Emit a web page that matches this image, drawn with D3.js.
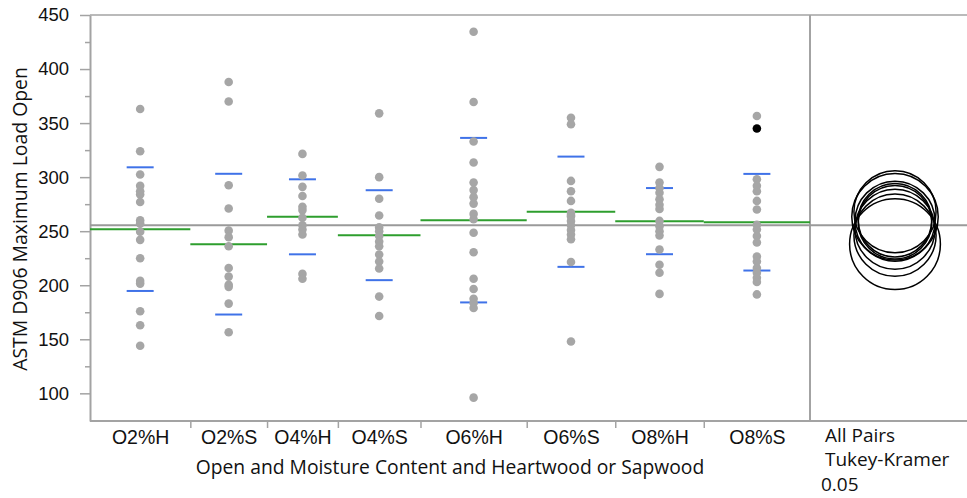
<!DOCTYPE html>
<html>
<head>
<meta charset="utf-8">
<script src="https://cdn.jsdelivr.net/npm/d3@7"></script>
<style>
  body { margin: 0; background: #fff; }
  svg { display: block; font-family: "Open Sans", "Noto Sans", sans-serif; }
</style>
</head>
<body>
<div id="chart"></div>
<script>
// --------------- Data --------------- //

const groups = ["O2%H", "O2%S", "O4%H", "O4%S", "O6%H", "O6%S", "O8%H", "O8%S"];

const loads = {
    "O2%H": [363, 324, 302.5, 292, 287, 284, 277, 260, 257, 249.5, 242, 225, 204, 201.5, 176, 163, 144],
    "O2%S": [388, 370, 292.5, 271, 250.5, 244.5, 236, 216, 208, 200.5, 198.5, 183, 156.5],
    "O4%H": [321.5, 301.5, 291, 282.5, 272.5, 269.5, 262.5, 255.5, 251.5, 247, 210.5, 206],
    "O4%S": [359, 300, 280, 264.5, 253.5, 250, 245.5, 240.5, 236, 228.5, 222, 215.5, 189.5, 171.5],
    "O6%H": [434.5, 369.5, 333, 313.5, 295, 288, 281.5, 275.5, 266, 261, 248.5, 230.5, 206, 196.5, 187.5, 183.5, 179, 96],
    "O6%S": [355, 349, 296.5, 287, 278, 267, 265, 263.5, 259.5, 255.5, 251, 247, 242.5, 221.5, 148],
    "O8%H": [309.5, 295, 290, 285.5, 279.5, 274.5, 270.5, 259.5, 254.5, 250, 246, 233, 219, 211.5, 192],
    "O8%S": [356.5, 345, 298, 292, 287, 278, 270, 256, 251.5, 245.5, 239.5, 226.5, 222, 216, 211.5, 207, 203, 191.5]
};

// highlighted (selected) row
const selected = [{ group: "O8%S", value: 345 }];

// group means and standard deviations
const groupMean = [251.9, 238, 263.3, 246.3, 260.2, 268, 259.3, 258.3];
const groupSD = [57.2, 65.1, 34.7, 41.6, 76.1, 51, 30.6, 44.7];
const grandMean = 255.5;

// comparison circle radii (in load units)
const circleRadius = [37, 42, 40, 38, 34, 38, 37, 34];

const yTicks = [100, 150, 200, 250, 300, 350, 400, 450];
const yMinor = [125, 175, 225, 275, 325, 375, 425];

// --------------- Basic Setup --------------- //

const width = 967,
    height = 498;

const plot = { left: 90, right: 810, top: 15, bottom: 421 };
const panelRight = 967;

const gray = "#a3a3a3",
    dotGray = "#a6a6a6",
    green = "#2e9e2e",
    blue = "#3f72e8";

const svg = d3.select("#chart")
    .append("svg")
    .attr("width", width)
    .attr("height", height);

// y scale
const y = d3.scaleLinear()
    .domain([74.4, 450])
    .range([plot.bottom, plot.top]);

// x positions: group widths proportional to sample size
const counts = groups.map(g => loads[g].length);
const cum = [0];
counts.forEach(c => cum.push(cum[cum.length - 1] + c));
const x = d3.scaleLinear()
    .domain([0, cum[cum.length - 1]])
    .range([plot.left, plot.right]);
const center = i => x((cum[i] + cum[i + 1]) / 2);

// --------------- Frame and Axes --------------- //

// minor y ticks
svg.append("g")
    .attr("transform", `translate(${plot.left},0)`)
    .call(d3.axisLeft(y).tickValues(yMinor).tickSize(5).tickFormat(""))
    .call(g => g.select(".domain").remove())
    .call(g => g.selectAll("line").attr("stroke", gray).attr("stroke-width", 1.5));

// major y ticks
svg.append("g")
    .attr("transform", `translate(${plot.left},0)`)
    .call(d3.axisLeft(y).tickValues(yTicks).tickSize(10).tickSizeOuter(0).tickPadding(11))
    .call(g => g.select(".domain").attr("stroke", gray).attr("stroke-width", 2))
    .call(g => g.selectAll("line").attr("stroke", gray).attr("stroke-width", 1.5))
    .call(g => g.selectAll("text")
        .attr("fill", "#111")
        .style("font-size", "18.5px"));

// top and bottom frame lines, right divider
svg.append("line")
    .attr("x1", plot.left).attr("x2", panelRight)
    .attr("y1", plot.top).attr("y2", plot.top)
    .attr("stroke", gray).attr("stroke-width", 1.5);

svg.append("line")
    .attr("x1", plot.right).attr("x2", plot.right)
    .attr("y1", plot.top).attr("y2", plot.bottom)
    .attr("stroke", gray).attr("stroke-width", 2);

// x axis: boundary ticks
svg.append("g")
    .attr("transform", `translate(0,${plot.bottom})`)
    .call(d3.axisBottom(x).tickValues(cum.slice(1, -1)).tickSize(7).tickSizeOuter(0).tickFormat(""))
    .call(g => g.select(".domain").remove())
    .call(g => g.selectAll("line").attr("stroke", gray).attr("stroke-width", 1.5));

svg.append("line")
    .attr("x1", plot.left).attr("x2", panelRight)
    .attr("y1", plot.bottom).attr("y2", plot.bottom)
    .attr("stroke", gray).attr("stroke-width", 2);

// x axis: group labels
svg.append("g")
    .attr("transform", `translate(0,${plot.bottom})`)
    .call(d3.axisBottom(x)
        .tickValues(groups.map((g, i) => (cum[i] + cum[i + 1]) / 2))
        .tickFormat((d, i) => groups[i])
        .tickSize(0)
        .tickPadding(9))
    .call(g => g.select(".domain").remove())
    .call(g => g.selectAll("text")
        .attr("fill", "#111")
        .style("font-size", "19.5px"));

// axis titles
svg.append("text")
    .attr("x", (plot.left + plot.right) / 2)
    .attr("y", 474)
    .attr("text-anchor", "middle")
    .style("font-size", "19.3px")
    .attr("fill", "#111")
    .text("Open and Moisture Content and Heartwood or Sapwood");

svg.append("text")
    .attr("transform", `translate(27,${(plot.top + plot.bottom) / 2 + 1}) rotate(-90)`)
    .attr("text-anchor", "middle")
    .style("font-size", "19.4px")
    .attr("fill", "#111")
    .text("ASTM D906 Maximum Load Open");

// right panel caption
const caption = svg.append("g").attr("fill", "#111").style("font-size", "19px");
caption.append("text").attr("x", 825).attr("y", 442).text("All Pairs");
caption.append("text").attr("x", 825).attr("y", 466).text("Tukey-Kramer");
caption.append("text").attr("x", 821).attr("y", 491).text("0.05");

// --------------- Plot Marks --------------- //

// grand mean
svg.append("line")
    .attr("x1", plot.left).attr("x2", panelRight)
    .attr("y1", y(grandMean)).attr("y2", y(grandMean))
    .attr("stroke", "#9a9a9a").attr("stroke-width", 2);

// group means (full group width)
svg.append("g")
    .selectAll("line")
    .data(groups)
    .join("line")
    .attr("x1", (d, i) => x(cum[i]))
    .attr("x2", (d, i) => x(cum[i + 1]))
    .attr("y1", (d, i) => y(groupMean[i]))
    .attr("y2", (d, i) => y(groupMean[i]))
    .attr("stroke", green)
    .attr("stroke-width", 2);

// std dev lines
const sdLines = [];
groups.forEach((g, i) => {
    sdLines.push({ i, v: groupMean[i] + groupSD[i] });
    sdLines.push({ i, v: groupMean[i] - groupSD[i] });
});
svg.append("g")
    .selectAll("line")
    .data(sdLines)
    .join("line")
    .attr("x1", d => center(d.i) - 13.5)
    .attr("x2", d => center(d.i) + 13.5)
    .attr("y1", d => y(d.v))
    .attr("y2", d => y(d.v))
    .attr("stroke", blue)
    .attr("stroke-width", 2);

// points
const points = [];
groups.forEach((g, i) => loads[g].forEach(v => points.push({ g, i, v })));
const isSelected = d => selected.some(s => s.group === d.g && s.value === d.v);

svg.append("g")
    .selectAll("circle")
    .data(points)
    .join("circle")
    .attr("cx", d => center(d.i))
    .attr("cy", d => y(d.v))
    .attr("r", 4.3)
    .attr("fill", d => isSelected(d) ? "#000" : dotGray);

// --------------- Comparison Circles --------------- //

const circleX = 895;
const pxPerUnit = y(0) - y(1);

svg.append("g")
    .selectAll("circle")
    .data(groups)
    .join("circle")
    .attr("cx", circleX)
    .attr("cy", (d, i) => y(groupMean[i]))
    .attr("r", (d, i) => circleRadius[i] * pxPerUnit)
    .attr("fill", "none")
    .attr("stroke", "#000")
    .attr("stroke-width", 1.5);
</script>
</body>
</html>
